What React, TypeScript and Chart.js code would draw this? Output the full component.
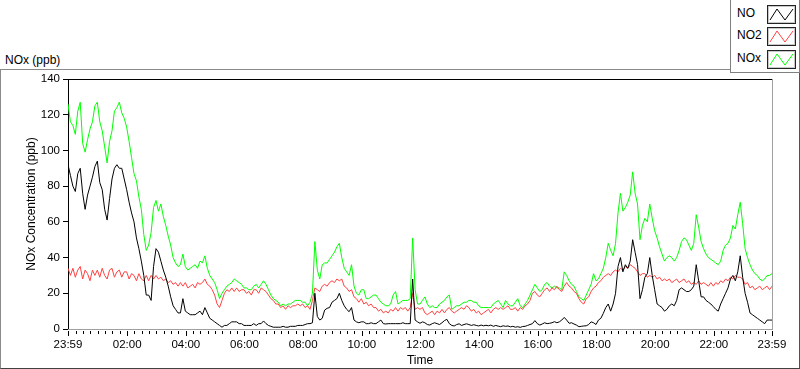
import React, { useEffect, useRef } from "react";
import { Chart, registerables } from "chart.js";

Chart.register(...registerables);

// minutes since 23:59 (start), one value every 5 minutes
const STEP_MIN = 5;

const noValues = [
  92, 86, 80, 77, 87, 90, 76, 67, 75, 80, 85, 91,
  94, 82, 78, 67, 61, 73, 84, 90, 92, 90, 90, 84,
  78, 71, 65, 60, 51, 45, 38, 30, 19, 19, 16, 35,
  45, 43, 38, 33, 29, 24, 18, 13, 11, 9, 9, 17,
  10, 9, 8, 8, 8, 9, 10, 8, 12, 9, 6, 5,
  4, 3, 2, 1, 2, 2, 3, 4, 4, 4, 3, 3,
  2, 2, 2, 2, 3, 2, 3, 3, 4.5, 3, 2, 1.5,
  1, 1, 1, 1, 1.5, 1, 1, 1.5, 1.5, 1.5, 2, 2,
  2, 2.5, 3, 3, 3.5, 20, 7, 5, 6, 10.6, 11.6, 12,
  15, 16, 17, 20, 16, 13, 11, 9.7, 12, 5, 4, 3.5,
  4, 4, 3, 3, 3.5, 3, 3, 4, 5, 3, 2.8, 3,
  3, 3, 3, 3, 3, 3.5, 3, 3, 3, 28, 5, 4,
  3.2, 4, 3.5, 2.5, 2.2, 3, 3.5, 3, 2.5, 3.5, 4.7, 5.4,
  3, 2, 1.7, 2.5, 2.9, 2, 2.5, 2.9, 2.5, 2, 2.4, 2,
  1.7, 2.2, 1.8, 2.1, 1.8, 2.2, 1.5, 2, 1.6, 1.3, 1.8, 1.5,
  1.7, 1.2, 1.5, 1, 1.3, 0.9, 1.4, 1.5, 2, 2.5, 3, 4.7,
  3, 2.2, 2.8, 3.5, 3, 3.2, 3.5, 4.1, 3.5, 4, 5, 6.5,
  5, 3.2, 3.5, 2.8, 2.2, 1.3, 1.5, 1.7, 1.8, 2.5, 4, 3.5,
  2.5, 5, 6, 8.8, 12, 14, 10, 14, 20, 35, 40, 32,
  36, 34, 38, 50, 43, 36, 17, 22, 29, 31, 40, 30,
  22, 14, 13, 12, 10, 11, 13, 14, 13, 16, 22, 23,
  22, 21, 21, 22, 24, 36, 27, 18, 18, 16, 15, 14,
  12.5, 11, 10, 14, 17, 20, 23, 28, 30, 27, 32, 41,
  29, 20, 15, 9, 8, 7, 6, 5, 4, 3, 5, 5,
  5,
];

const no2Values = [
  34, 30, 34, 29, 33, 35, 28, 33, 31, 27, 33, 30,
  33, 29, 34, 30, 28, 33, 34, 29, 32, 33, 29, 32,
  32, 28, 31, 30, 27, 31, 28, 27, 30, 27, 30, 28,
  30, 28, 29, 27, 28, 26, 27, 25, 26, 24, 26, 24,
  26, 23, 24, 25, 23, 26, 25, 26, 28, 25, 24, 22,
  19, 14, 12, 16, 20, 22, 21, 23, 21, 23, 21, 22,
  22, 20, 21, 19, 22, 22, 20, 23, 22, 21, 19, 17,
  16, 14, 14, 12, 13, 11, 13, 12, 13, 13, 14, 13,
  14, 12, 13, 11, 16, 23, 22, 21, 24, 25, 24, 26,
  27, 26, 28, 27, 28, 24, 23, 21, 22, 18, 17, 15,
  17, 14, 15, 13, 14, 12, 12, 10, 11, 9, 10, 9,
  11, 10, 12, 10, 12, 11, 12, 10, 12, 20, 11, 12,
  11, 12, 9, 8, 9, 10, 8, 10, 9, 11, 9, 11,
  12, 10, 9, 10, 11, 12, 11, 13, 12, 10, 11, 9,
  10, 8, 9, 10, 11, 9, 11, 12, 11, 12, 11, 12,
  13, 11, 11, 12, 10, 12, 11, 13, 14, 16, 20, 21,
  19, 18, 20, 22, 23, 21, 23, 22, 24, 22, 21, 24,
  26, 24, 23, 21, 20, 17, 15, 14, 17, 18, 21, 23,
  24, 26, 27, 29, 30, 31, 30, 32, 33, 32, 34, 33,
  35, 34, 36, 35, 34, 32, 30, 31, 31, 29, 30, 29,
  30, 28, 29, 27, 28, 27, 28, 26, 27, 28, 26, 27,
  28, 26, 27, 25, 26, 25, 27, 25, 26, 25, 24, 26,
  24, 26, 25, 27, 26, 28, 27, 29, 28, 30, 29, 29,
  28, 25, 26, 23, 24, 22, 23, 24, 22, 23, 24, 22,
  24,
];

const noxValues = [
  126, 116, 114, 109, 122, 127, 104, 99, 106, 112, 116, 125,
  127, 116, 111, 102, 93, 105, 111, 122, 124, 127, 121, 118,
  113, 105, 96, 87, 83, 74, 67, 53, 44, 47, 54, 68,
  72, 66, 70, 63, 58, 52, 47, 40, 37, 35, 36, 42,
  35, 33, 34, 35, 36, 34, 38, 37, 41, 34, 30, 28,
  26, 22, 17, 20, 22, 24, 25, 26, 28, 27, 26, 25,
  23, 23, 22, 22, 24, 25, 23, 25, 27, 25, 22, 19,
  17, 16, 15, 13, 14, 13, 14, 14, 15, 16, 16, 16,
  15, 15, 13, 15, 20, 49, 33, 28, 36, 37, 37, 39,
  41, 43, 46, 48, 40, 34, 32, 30, 36, 24, 20, 19,
  22, 22, 17, 17, 18, 19, 19, 17, 15, 14, 13, 13,
  14, 19, 21, 14, 15, 16, 16, 16, 17, 51, 22, 14,
  14, 16, 18, 14, 12, 13, 12, 12, 14, 15, 16, 18,
  19, 11, 12, 13, 13, 14, 15, 15, 16, 16, 15, 15,
  13, 12, 12, 12, 12, 12, 14, 15, 16, 14, 12, 16,
  14, 13, 13, 15, 17, 13, 12, 14, 16, 19, 22, 25,
  23, 21, 22, 25, 26, 24, 23, 24, 23, 23, 22, 32,
  30, 27, 25, 24, 21, 18, 17, 16, 19, 22, 25, 31,
  27, 28, 31, 34, 40, 48, 44, 41, 48, 65, 76, 66,
  68, 71, 75, 88, 76, 70, 50, 58, 62, 60, 70, 62,
  55, 51, 46, 42, 38, 40, 41, 40, 38, 40, 44, 49,
  51, 50, 47, 44, 48, 64, 57, 49, 45, 42, 40, 39,
  38, 37, 36, 38, 44, 47, 48, 51, 58, 56, 64, 71,
  59, 45, 40, 36, 33, 31, 30, 28, 27, 28, 30, 30,
  31,
];

const xTickMinutes = [0, 121, 241, 361, 481, 601, 721, 841, 961, 1081, 1201, 1321, 1440];
const xTickLabels = ["23:59", "02:00", "04:00", "06:00", "08:00", "10:00", "12:00", "14:00", "16:00", "18:00", "20:00", "22:00", "23:59"];

const seriesNames = ["NO", "NO2", "NOx"];
const seriesColors = ["#000000", "#ff4040", "#00ff00"];

const FONT = "'Liberation Sans', Arial, sans-serif";

const toPoints = (arr: number[]) => arr.map((v, i) => ({ x: i * STEP_MIN, y: v }));

const framePlugin = {
  id: "labviewFrame",
  afterDraw(chart: any) {
    const { ctx, chartArea } = chart;
    const { left, right, top, bottom } = chartArea;
    const x = chart.scales.x;
    ctx.save();
    ctx.lineWidth = 1;
    ctx.strokeStyle = "#000";
    ctx.beginPath();
    ctx.moveTo(left, Math.round(top) + 0.5);
    ctx.lineTo(right, Math.round(top) + 0.5);
    ctx.stroke();
    ctx.strokeStyle = "#a0a0a0";
    ctx.beginPath();
    ctx.moveTo(Math.round(right) + 0.5, top);
    ctx.lineTo(Math.round(right) + 0.5, bottom + 1);
    ctx.moveTo(left, Math.round(bottom) + 0.5);
    ctx.lineTo(right + 1, Math.round(bottom) + 0.5);
    ctx.stroke();
    // minor ticks every 15 min
    ctx.strokeStyle = "#000";
    ctx.beginPath();
    for (let m = 16; m < 1440; m += 15) {
      if ((m - 1) % 120 === 0) continue;
      const px = Math.round(x.getPixelForValue(m)) + 0.5;
      ctx.moveTo(px, Math.round(bottom) + 2);
      ctx.lineTo(px, Math.round(bottom) + 5);
    }
    ctx.stroke();
    // major ticks
    ctx.beginPath();
    xTickMinutes.forEach((m) => {
      const px = Math.round(x.getPixelForValue(m)) + 0.5;
      ctx.moveTo(px, Math.round(bottom) + 2);
      ctx.lineTo(px, Math.round(bottom) + 7);
    });
    ctx.stroke();
    ctx.restore();
  },
};

function Swatch({ color }: { color: string }) {
  return (
    <svg width={29} height={19} style={{ display: "block" }}>
      <rect x={0.5} y={0.5} width={28} height={18} fill="#fff" stroke="#222" />
      <rect x={1.5} y={1.5} width={26} height={16} fill="none" stroke="#c8c8c8" />
      <polyline points="3,15 10,4 18,15 26,4" fill="none" stroke={color} strokeWidth={1} />
    </svg>
  );
}

export default function App() {
  const canvasRef = useRef<HTMLCanvasElement | null>(null);

  useEffect(() => {
    if (!canvasRef.current) return;
    const datasets = [noValues, no2Values, noxValues].map((arr, i) => ({
      label: seriesNames[i],
      data: toPoints(arr),
      borderColor: seriesColors[i],
      backgroundColor: seriesColors[i],
      borderWidth: 1,
      pointRadius: 0,
      tension: 0,
      fill: false,
      order: i,
    }));
    const chart = new Chart(canvasRef.current, {
      type: "line",
      data: { datasets },
      plugins: [framePlugin],
      options: {
        animation: false,
        responsive: false,
        maintainAspectRatio: false,
        layout: { padding: { left: 0, top: 79, right: 28, bottom: 0 } },
        plugins: { legend: { display: false }, tooltip: { enabled: false } },
        scales: {
          x: {
            type: "linear",
            min: 0,
            max: 1440,
            afterBuildTicks: (scale: any) => {
              scale.ticks = xTickMinutes.map((v) => ({ value: v }));
            },
            afterFit: (scale: any) => {
              scale.height = 40;
            },
            ticks: {
              autoSkip: false,
              maxRotation: 0,
              minRotation: 0,
              padding: 9,
              color: "#000",
              font: { family: FONT, size: 11.5 },
              callback: (v: any) => {
                const idx = xTickMinutes.indexOf(Number(v));
                return idx >= 0 ? xTickLabels[idx] : "";
              },
            },
            grid: { display: true, drawOnChartArea: false, drawTicks: false, color: "rgba(0,0,0,0)" },
            border: { display: false },
            title: {
              display: true,
              text: "Time",
              color: "#000",
              font: { family: FONT, size: 12 },
              padding: { top: 0, bottom: 1 },
            },
          },
          y: {
            type: "linear",
            min: 0,
            max: 140,
            afterFit: (scale: any) => {
              scale.width = 68;
            },
            ticks: {
              stepSize: 20,
              padding: 3,
              color: "#000",
              font: { family: FONT, size: 11.5 },
            },
            grid: { drawOnChartArea: false, drawTicks: true, tickLength: 5, color: "#000" },
            border: { display: true, color: "#000" },
            title: {
              display: true,
              text: "NOx Concentration (ppb)",
              color: "#000",
              font: { family: FONT, size: 12 },
              padding: { top: 24, bottom: 0 },
            },
          },
        },
      },
    });
    return () => chart.destroy();
  }, []);

  const legendTops = [6, 28, 51];
  const swatchTops = [5, 27, 50];

  return (
    <div style={{ position: "absolute", left: 0, top: 0, width: 800, height: 369, background: "#fff", fontFamily: FONT, overflow: "hidden" }}>
      <div style={{ position: "absolute", left: 0, top: 69, width: 800, height: 300, boxSizing: "border-box", borderTop: "1px solid #8a8a8a", borderLeft: "1px solid #8a8a8a", borderRight: "1px solid #505050", borderBottom: "1px solid #404040" }} />
      <div style={{ position: "absolute", left: 5, top: 53, fontSize: 12, lineHeight: "14px", color: "#000", whiteSpace: "nowrap" }}>NOx (ppb)</div>
      <canvas ref={canvasRef} width={800} height={369} style={{ position: "absolute", left: 0, top: 0, width: 800, height: 369 }} />
      <div style={{ position: "absolute", left: 730, top: 0, width: 70, height: 73, boxSizing: "border-box", background: "#fff", borderLeft: "1px solid #808080", borderBottom: "1px solid #808080", borderRight: "1px solid #808080" }}>
        {seriesNames.map((name, i) => (
          <React.Fragment key={name}>
            <div style={{ position: "absolute", left: 6, top: legendTops[i], fontSize: 12, lineHeight: "14px", color: "#000" }}>{name}</div>
            <div style={{ position: "absolute", left: 36, top: swatchTops[i] }}>
              <Swatch color={seriesColors[i]} />
            </div>
          </React.Fragment>
        ))}
      </div>
    </div>
  );
}
